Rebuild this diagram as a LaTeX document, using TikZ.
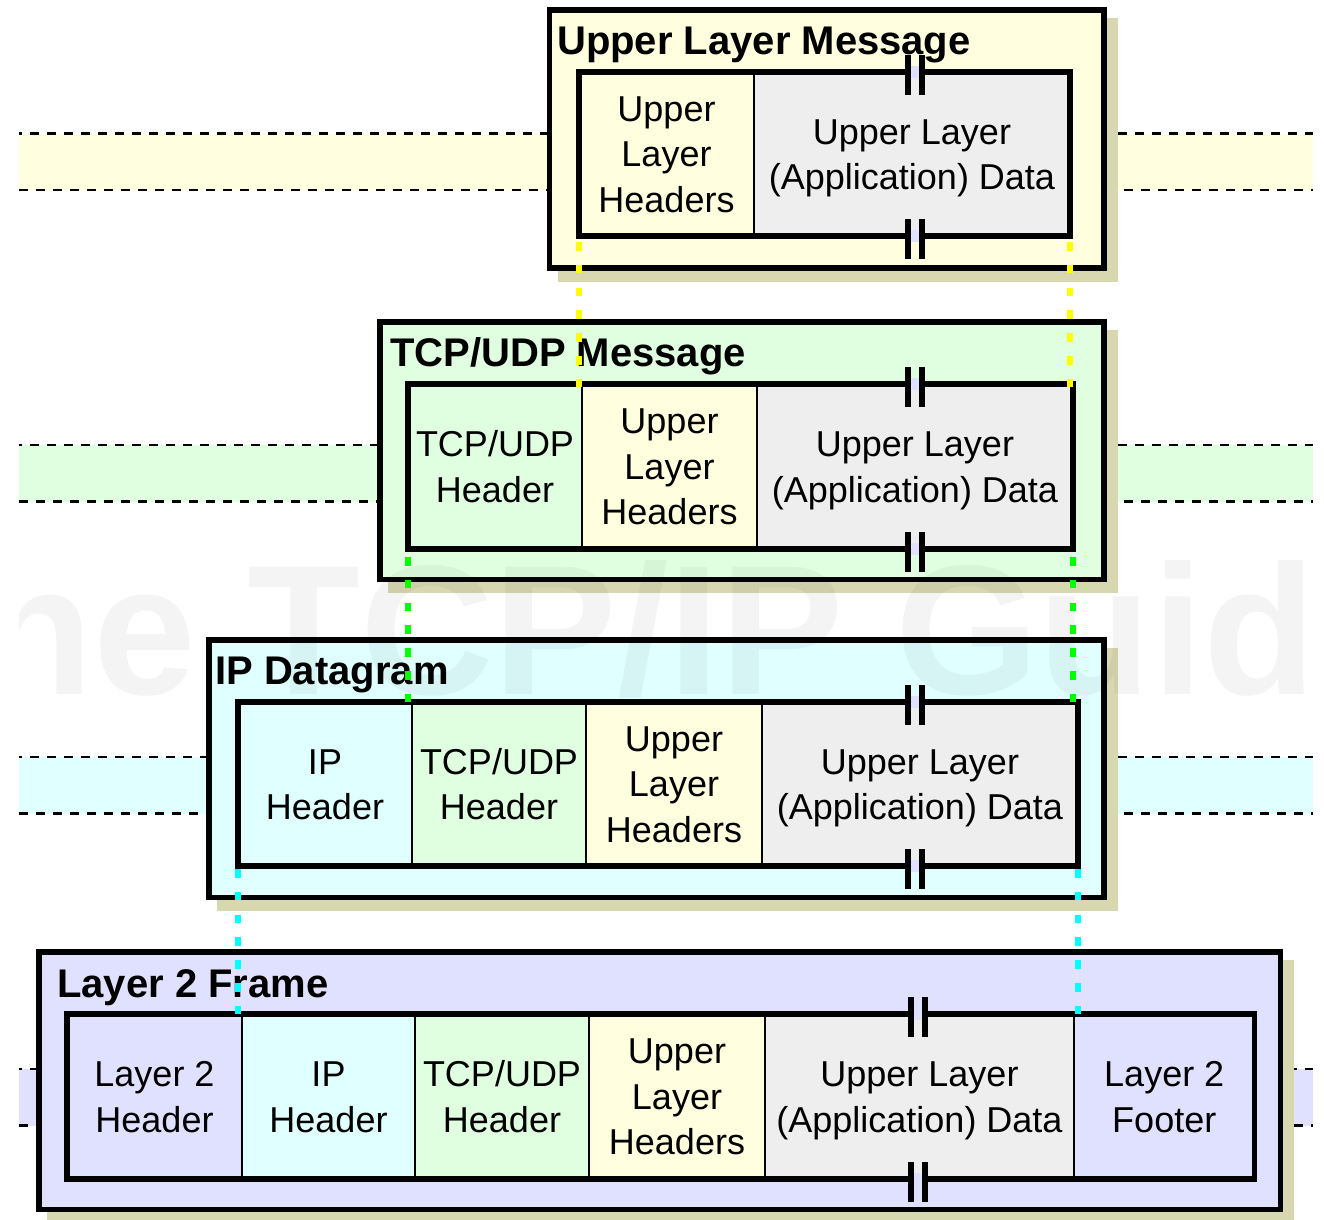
\documentclass[tikz,border=0pt]{standalone}
\usepackage{fontspec}
\setmainfont{Liberation Sans}
\usetikzlibrary{backgrounds}

\definecolor{ylw}{HTML}{FFFFE0}
\definecolor{grn}{HTML}{E0FFE0}
\definecolor{cyn}{HTML}{E0FFFF}
\definecolor{lav}{HTML}{E0E0FF}
\definecolor{dat}{HTML}{EEEEEE}
\definecolor{shd}{RGB}{216,216,176}
\definecolor{ylwdot}{HTML}{FFFF00}
\definecolor{grndot}{HTML}{00FF00}
\definecolor{cyndot}{HTML}{00FFFF}

% strut with height - depth = cap height, so lines centre on their capitals
\newcommand\cellstrut{\rule[-8pt]{0pt}{41.8pt}}
\newcommand\txtULH{\cellstrut Upper\\\cellstrut Layer\\\cellstrut Headers}
\newcommand\txtData{\cellstrut Upper Layer\\\cellstrut (Application) Data}
\newcommand\txtTCP{\cellstrut TCP/UDP\\\cellstrut Header}
\newcommand\txtIP{\cellstrut IP\\\cellstrut Header}

% break symbol on a frame line: two bars with a gap
\newcommand\gapmark[2]{%
  \fill[lav] (#1-4,#2-6) rectangle (#1+4,#2+6);
  \fill[black] (#1-10,#2-17) rectangle (#1-4,#2+23);
  \fill[black] (#1+4,#2-17) rectangle (#1+10,#2+23);}

\tikzset{
  bandline/.style={line width=2.6pt, dash pattern=on 8.5pt off 8.5pt},
  pdu/.style={draw, line width=5.5pt, rectangle, inner sep=0pt, outer sep=0pt, anchor=north west},
  field/.style={rectangle, inner sep=0pt, outer sep=0pt, anchor=north west, align=center,
                font=\fontsize{36}{45.5}\selectfont},
  divider/.style={line width=2pt},
  frame/.style={line width=5.5pt},
  pdutitle/.style={anchor=base west, inner sep=0pt, font=\bfseries\fontsize{40}{48}\selectfont},
  link/.style={line width=6pt, draw=#1, dash pattern=on 8.5pt off 14.3pt, shorten >=-5pt},
  watermark/.style={anchor=base west, inner sep=0pt, text=black, opacity=0.045,
                    font=\bfseries\fontsize{185}{185}\selectfont},
}

\begin{document}
\begin{tikzpicture}[x=1pt,y=-1pt]
\useasboundingbox (0,0) rectangle (1324,1219);

% ---------- outer PDU boxes ----------
\node[pdu, fill=ylw, minimum width=554.5pt, minimum height=258pt] (m1) at (549.5,10) {};
\node[pdu, fill=grn, minimum width=724pt, minimum height=257.5pt] (m2) at (380,322) {};
\node[pdu, fill=cyn, minimum width=895pt, minimum height=257.5pt] (m3) at (209,640) {};
\node[pdu, fill=lav, minimum width=1241.5pt, minimum height=257.5pt] (m4) at (39,952) {};

% ---------- layer bands and drop shadows ----------
\begin{scope}[on background layer]
  \foreach \top/\col in {133.5/ylw, 445/grn, 757/cyn, 1069/lav}{
    \fill[\col] (19,\top) rectangle (1313,\top+56.5);
    \draw[bandline, dash phase=6pt] (19,\top) -- (1313,\top);
    \draw[bandline] (19,\top+56.5) -- (1313,\top+56.5);
  }
  \foreach \m in {m1,m2,m3,m4}{
    \fill[shd] ([xshift=8.25pt,yshift=-8.25pt]\m.north west)
          rectangle ([xshift=13.75pt,yshift=-13.75pt]\m.south east);
  }
\end{scope}

% ---------- Upper Layer Message ----------
\node[pdutitle] (t1) at (557,54) {Upper Layer Message};
\node[field, fill=ylw, minimum width=175pt, minimum height=164pt] (b1h) at (579,72) {\txtULH};
\node[field, fill=dat, minimum width=316pt, minimum height=164pt] (b1d) at (754,72) {\txtData};
\draw[divider] (b1h.north east) -- (b1h.south east);
\draw[frame] (b1h.north west) rectangle (b1d.south east);
\gapmark{915}{72}
\gapmark{915}{236}

% ---------- TCP/UDP Message ----------
\node[pdutitle] (t2) at (390,366) {TCP/UDP Message};
\node[field, fill=grn, minimum width=174pt, minimum height=165pt] (b2t) at (408,384) {\txtTCP};
\node[field, fill=ylw, minimum width=175pt, minimum height=165pt] (b2u) at (582,384) {\txtULH};
\node[field, fill=dat, minimum width=316pt, minimum height=165pt] (b2d) at (757,384) {\txtData};
\draw[divider] (b2t.north east) -- (b2t.south east);
\draw[divider] (b2u.north east) -- (b2u.south east);
\draw[frame] (b2t.north west) rectangle (b2d.south east);
\gapmark{915}{384}
\gapmark{915}{549}

% ---------- IP Datagram ----------
\node[pdutitle] (t3) at (215,684) {IP Datagram};
\node[field, fill=cyn, minimum width=174pt, minimum height=164pt] (b3i) at (238,702) {\txtIP};
\node[field, fill=grn, minimum width=174pt, minimum height=164pt] (b3t) at (412,702) {\txtTCP};
\node[field, fill=ylw, minimum width=176pt, minimum height=164pt] (b3u) at (586,702) {\txtULH};
\node[field, fill=dat, minimum width=316pt, minimum height=164pt] (b3d) at (762,702) {\txtData};
\draw[divider] (b3i.north east) -- (b3i.south east);
\draw[divider] (b3t.north east) -- (b3t.south east);
\draw[divider] (b3u.north east) -- (b3u.south east);
\draw[frame] (b3i.north west) rectangle (b3d.south east);
\gapmark{915}{702}
\gapmark{915}{866}

% ---------- Layer 2 Frame ----------
\node[pdutitle] (t4) at (57,997) {Layer 2 Frame};
\node[field, fill=lav, minimum width=175pt, minimum height=165pt] (b4l) at (67,1014) {\cellstrut Layer 2\\\cellstrut Header};
\node[field, fill=cyn, minimum width=173pt, minimum height=165pt] (b4i) at (242,1014) {\txtIP};
\node[field, fill=grn, minimum width=174pt, minimum height=165pt] (b4t) at (415,1014) {\txtTCP};
\node[field, fill=ylw, minimum width=176pt, minimum height=165pt] (b4u) at (589,1014) {\txtULH};
\node[field, fill=dat, minimum width=309pt, minimum height=165pt] (b4d) at (765,1014) {\txtData};
\node[field, fill=lav, minimum width=180.5pt, minimum height=165pt] (b4f) at (1074,1014) {\cellstrut Layer 2\\\cellstrut Footer};
\foreach \c in {b4l,b4i,b4t,b4u,b4d}{
  \draw[divider] (\c.north east) -- (\c.south east);
}
\draw[frame] (b4l.north west) rectangle (b4f.south east);
\gapmark{918}{1014}
\gapmark{918}{1179}

% ---------- faint site watermark ----------
\begin{scope}
  \clip (19,0) rectangle (1313,1219);
  \node[watermark] (wm) at (-133,694) {The TCP/IP Guide};
\end{scope}

% ---------- encapsulation guides ----------
\draw[link=ylwdot, dash phase=16.8pt] (b1h.south west) -- (b1h.south west |- b2u.north);
\draw[link=ylwdot, dash phase=16.8pt] (b1d.south east) -- (b1d.south east |- b2d.north);
\draw[link=grndot, dash phase=14.8pt] (b2t.south west) -- (b2t.south west |- b3t.north);
\draw[link=grndot, dash phase=14.8pt] (b2d.south east) -- (b2d.south east |- b3d.north);
\draw[link=cyndot, dash phase=19.8pt] (b3i.south west) -- (b3i.south west |- b4i.north);
\draw[link=cyndot, dash phase=19.8pt] (b3d.south east) -- (b3d.south east |- b4d.north);
\end{tikzpicture}
\end{document}
